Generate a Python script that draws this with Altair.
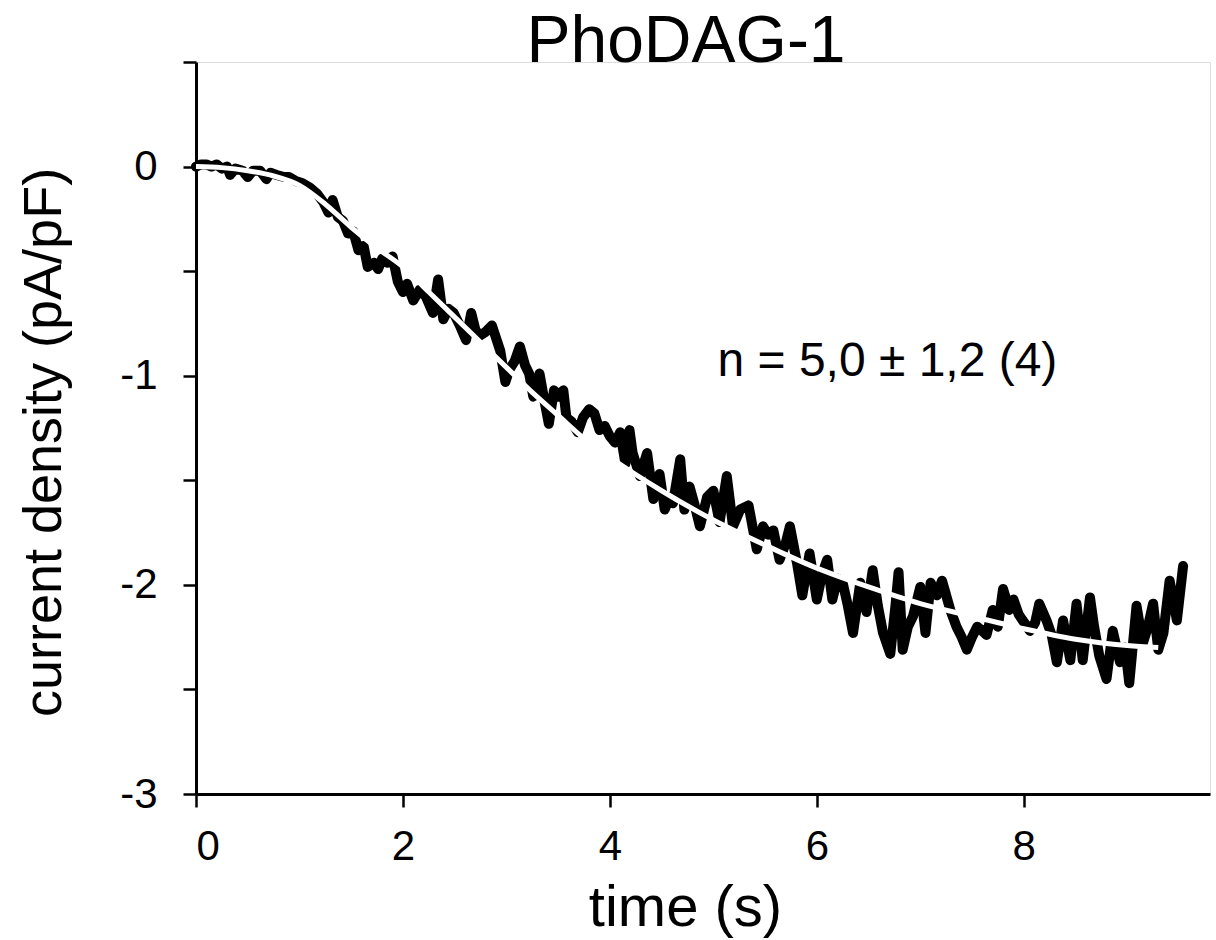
import altair as alt
import pandas as pd

# noisy current-density trace
trace_t = [0.00, 0.05, 0.10, 0.15, 0.20, 0.25, 0.30, 0.33, 0.38, 0.45, 0.50, 0.55, 0.62, 0.68, 0.72,
           0.78, 0.85, 0.90, 0.97, 1.03, 1.10, 1.17, 1.23, 1.28, 1.32, 1.37, 1.42, 1.47, 1.52, 1.57,
           1.62, 1.66, 1.72, 1.76, 1.80, 1.85, 1.90, 1.95, 2.00, 2.04, 2.10, 2.16, 2.22, 2.29, 2.34,
           2.39, 2.44, 2.49, 2.55, 2.61, 2.66, 2.70, 2.74, 2.80, 2.86, 2.94, 2.99, 3.03, 3.08, 3.13,
           3.18, 3.22, 3.26, 3.32, 3.36, 3.41, 3.46, 3.50, 3.55, 3.58, 3.63, 3.69, 3.74, 3.80, 3.85,
           3.90, 3.95, 4.00, 4.05, 4.10, 4.15, 4.19, 4.22, 4.29, 4.36, 4.42, 4.48, 4.53, 4.58, 4.61,
           4.68, 4.72, 4.77, 4.82, 4.87, 4.94, 5.00, 5.06, 5.13, 5.19, 5.26, 5.34, 5.42, 5.48, 5.53,
           5.58, 5.64, 5.70, 5.74, 5.81, 5.86, 5.93, 6.00, 6.05, 6.10, 6.15, 6.20, 6.25, 6.30, 6.35,
           6.42, 6.48, 6.54, 6.59, 6.64, 6.71, 6.76, 6.79, 6.83, 6.88, 6.93, 7.00, 7.05, 7.10, 7.16,
           7.21, 7.29, 7.35, 7.40, 7.45, 7.50, 7.55, 7.60, 7.64, 7.70, 7.75, 7.80, 7.86, 7.90, 7.95,
           7.99, 8.06, 8.11, 8.15, 8.22, 8.27, 8.32, 8.38, 8.45, 8.51, 8.57, 8.64, 8.68, 8.73, 8.80,
           8.86, 8.93, 8.98, 9.02, 9.09, 9.15, 9.20, 9.25, 9.30, 9.35, 9.41, 9.48, 9.54]
trace_v = [0.00, 0.01, 0.01, 0.00, 0.01, -0.01, 0.00, -0.04, -0.01, -0.02, -0.05, -0.02, -0.02, -0.06, -0.03,
           -0.04, -0.05, -0.05, -0.07, -0.08, -0.10, -0.13, -0.17, -0.22, -0.16, -0.24, -0.26, -0.32, -0.31, -0.40,
           -0.38, -0.48, -0.46, -0.49, -0.44, -0.46, -0.43, -0.55, -0.60, -0.56, -0.64, -0.59, -0.62, -0.70, -0.54,
           -0.73, -0.68, -0.70, -0.76, -0.83, -0.70, -0.78, -0.81, -0.79, -0.76, -0.88, -1.03, -0.97, -0.93, -0.86,
           -0.95, -0.99, -1.10, -0.99, -1.10, -1.23, -1.07, -1.10, -1.07, -1.20, -1.22, -1.27, -1.20, -1.16, -1.18,
           -1.26, -1.24, -1.29, -1.32, -1.27, -1.42, -1.26, -1.37, -1.48, -1.37, -1.59, -1.47, -1.64, -1.58, -1.61,
           -1.40, -1.64, -1.53, -1.62, -1.72, -1.58, -1.55, -1.70, -1.48, -1.72, -1.64, -1.62, -1.83, -1.72, -1.76,
           -1.74, -1.88, -1.80, -1.72, -1.90, -2.05, -1.85, -2.07, -1.95, -1.88, -2.07, -1.97, -1.99, -2.10, -2.23,
           -1.99, -2.13, -1.93, -2.10, -2.23, -2.33, -2.10, -1.94, -2.31, -2.20, -2.15, -2.01, -2.23, -1.99, -2.05,
           -1.98, -2.12, -2.20, -2.25, -2.31, -2.25, -2.20, -2.22, -2.24, -2.12, -2.20, -2.02, -2.12, -2.07, -2.14,
           -2.17, -2.22, -2.18, -2.09, -2.17, -2.24, -2.37, -2.17, -2.36, -2.09, -2.36, -2.06, -2.20, -2.34, -2.45,
           -2.22, -2.37, -2.30, -2.47, -2.10, -2.28, -2.20, -2.09, -2.31, -2.23, -1.98, -2.17, -1.91]

# smooth fitted curve (white)
fit_t = [0.0, 0.25, 0.5, 0.75, 1.0, 1.25, 1.5, 1.75, 2.0, 2.25, 2.5, 2.75, 3.0, 3.25, 3.5, 3.75,
         4.0, 4.5, 5.0, 5.5, 6.0, 6.5, 7.0, 7.5, 8.0, 8.5, 9.0, 9.3]
fit_v = [0.0, -0.005, -0.02, -0.045, -0.09, -0.18, -0.29, -0.39, -0.48, -0.60, -0.72, -0.84, -0.96, -1.08,
         -1.19, -1.30, -1.39, -1.55, -1.69, -1.81, -1.92, -2.01, -2.09, -2.15, -2.21, -2.26, -2.29, -2.30]

annot_text = ["n = 5,0 \u00b1 1,2 (4)"]
annot_x = [5.04]
annot_y = [-1.0]

title_text = ["PhoDAG-1"]

x_ticks = [0, 2, 4, 6, 8]
y_ticks = [-3, -2.5, -2, -1.5, -1, -0.5, 0, 0.5]

FONT = "Liberation Sans"

df_trace = pd.DataFrame({"t": trace_t, "v": trace_v})
df_fit = pd.DataFrame({"t": fit_t, "v": fit_v})
df_annot = pd.DataFrame({"t": annot_x, "v": annot_y, "label": annot_text})
df_title = pd.DataFrame({"label": title_text})

x_scale = alt.Scale(domain=[0, 9.8], nice=False, zero=False)
y_scale = alt.Scale(domain=[-3, 0.5], nice=False, zero=False)

x_axis = alt.Axis(values=x_ticks, format="d", title="time (s)", grid=False, tickSize=13, tickWidth=2.5,
                  domainWidth=3, domainColor="black", tickColor="black",
                  labelFont=FONT, labelFontSize=42, labelColor="black", labelPadding=19,
                  titleFont=FONT, titleFontSize=58, titleFontWeight="normal", titleColor="black",
                  titleX=489, titleY=131, titleBaseline="alphabetic", titleAlign="center")
y_axis = alt.Axis(values=y_ticks, title="current density (pA/pF)", grid=False, tickSize=13, tickWidth=2.5,
                  domainWidth=3, domainColor="black", tickColor="black",
                  labelExpr="datum.value % 1 == 0 ? toString(datum.value) : ''",
                  labelFont=FONT, labelFontSize=42, labelColor="black", labelPadding=26,
                  titleFont=FONT, titleFontSize=54, titleFontWeight="normal", titleColor="black",
                  titleX=-136, titleY=380, titleBaseline="alphabetic", titleAlign="center", titleAngle=270)

trace = alt.Chart(df_trace).mark_line(color="black", strokeWidth=10, strokeJoin="round", strokeCap="round").encode(
    x=alt.X("t:Q", scale=x_scale, axis=x_axis),
    y=alt.Y("v:Q", scale=y_scale, axis=y_axis),
)
fit = alt.Chart(df_fit).mark_line(color="white", strokeWidth=5, interpolate="monotone").encode(
    x=alt.X("t:Q", scale=x_scale),
    y=alt.Y("v:Q", scale=y_scale),
)
annot = alt.Chart(df_annot).mark_text(font=FONT, fontSize=48, color="black", align="left",
                                      baseline="alphabetic").encode(
    x=alt.X("t:Q", scale=x_scale),
    y=alt.Y("v:Q", scale=y_scale),
    text="label:N",
)
title = alt.Chart(df_title).mark_text(font=FONT, fontSize=66, color="black", align="center",
                                      baseline="alphabetic").encode(
    x=alt.value(490),
    y=alt.value(0),
    text="label:N",
)

chart = alt.layer(trace, fit, annot, title).properties(
    width=1014,
    height=732,
    autosize=alt.AutoSizeParams(type="none"),
    padding={"left": 196, "top": 62, "right": 6, "bottom": 146},
).configure_view(stroke=None).configure(background="white")

chart.save("out.html", embed_options={"renderer": "svg", "actions": False})
